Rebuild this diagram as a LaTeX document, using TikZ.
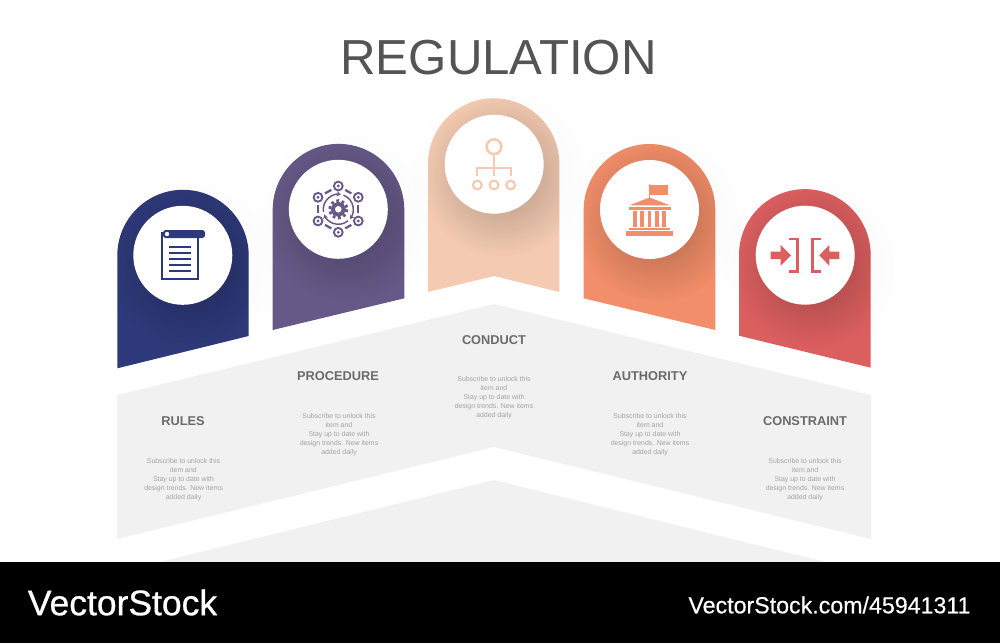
\documentclass[tikz,border=0pt]{standalone}
\usepackage{fontspec}
\setmainfont{Liberation Sans}
\usetikzlibrary{fadings,arrows.meta}
\definecolor{tabNavy}{HTML}{2E3979}
\definecolor{tabPurple}{HTML}{665988}
\definecolor{tabPeach}{HTML}{F4CBB2}
\definecolor{tabOrange}{HTML}{F28E69}
\definecolor{tabRed}{HTML}{DC5F60}
\definecolor{panelGray}{HTML}{F1F1F1}
\tikzfading[name=softShadow, inner color=transparent!0, outer color=transparent!100]
\tikzstyle{disc}=[shape = circle, minimum size = 74.25pt, inner sep = 0pt, fill = white]
\tikzstyle{heading}=[inner sep = 0pt, font = \fontsize{9.6}{11}\selectfont\bfseries, text = black!58]
\tikzstyle{blurb}=[inner sep = 0pt, align = center, font = \fontsize{5.2}{6.75}\selectfont, text = black!36]
\tikzstyle{ring}=[shape = circle, minimum size = 6.6pt, inner sep = 0pt, draw = tabPurple, line width = 1.4pt]
\tikzstyle{small}=[shape = circle, minimum size = 6.6pt, inner sep = 0pt, draw = tabPeach, line width = 1.6pt]
\newcommand{\DrawTab}[3]{
\fill[black, opacity = 0.04, path fading = softShadow] (#3) circle (95);
\fill[#2] #1;
\begin{scope}
\clip #1;
\fill[black, opacity = 0.27, path fading = softShadow] (#3) circle (82);
\end{scope}
}
\begin{document}
\begin{tikzpicture}[x = 0.75pt, y = -0.75pt]
\useasboundingbox (0,0) rectangle (1000,643);
\fill[white] (0,0) rectangle (1000,643);
\fill[panelGray] (157,562.7) -- (494,480) -- (828,562.7) -- cycle;
\fill[panelGray] (117,395) -- (494,304) -- (871,395) -- (871,539) -- (494,447) -- (117,539) -- cycle;
\fill[black] (0,562) rectangle (1000,643);
\node[inner sep = 0pt, font = \fontsize{36.9}{40}\selectfont, text = black!67] (title) at (498.5,58) {REGULATION};
\DrawTab{(117.3,368.3) -- (117.3,255.5) arc (180:360:65.7) -- (248.7,336) -- cycle}{tabNavy}{191,266}
\DrawTab{(272.7,330) -- (272.7,209.7) arc (180:360:65.8) -- (404.3,298.3) -- cycle}{tabPurple}{346,220}
\DrawTab{(428,292) -- (428,164) arc (180:360:65.7) -- (559.3,292) -- (494,276) -- cycle}{tabPeach}{502,175}
\DrawTab{(583.7,298.3) -- (583.7,209.8) arc (180:360:65.8) -- (715.3,330) -- cycle}{tabOrange}{657,220}
\DrawTab{(739,335.7) -- (739,255) arc (180:360:65.85) -- (870.7,367.7) -- cycle}{tabRed}{813,266}
\node[disc] (disc1) at (182.8,255.3) {};
\node[disc] (disc2) at (338.3,209.3) {};
\node[disc] (disc3) at (494.2,164.2) {};
\node[disc] (disc4) at (649.5,209.5) {};
\node[disc] (disc5) at (805.2,255.2) {};
\draw[tabNavy, line width = 1.9pt] (162,232) -- (162,279) -- (198,279) -- (198,237);
\fill[tabNavy, rounded corners = 2pt] (163,230) rectangle (205,238);
\fill[white] (167,234) circle (2.2);
\draw[tabNavy, line width = 1.7pt] (169,246.7) -- (191,246.7);
\draw[tabNavy, line width = 1.7pt] (169,252.7) -- (191,252.7);
\draw[tabNavy, line width = 1.7pt] (169,258.7) -- (191,258.7);
\draw[tabNavy, line width = 1.7pt] (169,264.7) -- (191,264.7);
\draw[tabNavy, line width = 1.7pt] (169,270.7) -- (191,270.7);
\node[ring] (n1) at (338.3,186) {};
\node[ring] (n2) at (358.3,197.3) {};
\node[ring] (n3) at (358.3,221) {};
\node[ring] (n4) at (338.3,232.3) {};
\node[ring] (n5) at (318,221) {};
\node[ring] (n6) at (318,197.3) {};
\fill[tabPurple] (n1) circle (1.6);
\fill[tabPurple] (n2) circle (1.6);
\fill[tabPurple] (n3) circle (1.6);
\fill[tabPurple] (n4) circle (1.6);
\fill[tabPurple] (n5) circle (1.6);
\fill[tabPurple] (n6) circle (1.6);
\draw[tabPurple, line width = 1.7pt, shorten > = 2pt, shorten < = 2pt] (n1) -- (n2);
\draw[tabPurple, line width = 1.7pt, shorten > = 2pt, shorten < = 2pt] (n2) -- (n3);
\draw[tabPurple, line width = 1.7pt, shorten > = 2pt, shorten < = 2pt] (n3) -- (n4);
\draw[tabPurple, line width = 1.7pt, shorten > = 2pt, shorten < = 2pt] (n4) -- (n5);
\draw[tabPurple, line width = 1.7pt, shorten > = 2pt, shorten < = 2pt] (n5) -- (n6);
\draw[tabPurple, line width = 1.7pt, shorten > = 2pt, shorten < = 2pt] (n6) -- (n1);
\draw[tabPurple, line width = 1.1pt, -{Stealth[length = 3.2pt, width = 3.8pt]}] (338.3,209.3) ++(-70:15) arc (-70:40:15);
\draw[tabPurple, line width = 1.1pt, -{Stealth[length = 3.2pt, width = 3.8pt]}] (338.3,209.3) ++(50:15) arc (50:160:15);
\draw[tabPurple, line width = 1.1pt, -{Stealth[length = 3.2pt, width = 3.8pt]}] (338.3,209.3) ++(170:15) arc (170:280:15);
\draw[tabPurple, line width = 2.2pt, dash pattern = on 2.05pt off 2.05pt] (338.3,209.3) circle (8.6);
\draw[tabPurple, line width = 2.9pt] (338.3,209.3) circle (5.5);
\draw[tabPeach, line width = 1.9pt] (494,146.7) circle (7.4);
\draw[tabPeach, line width = 1.6pt] (494,154.3) -- (494,176);
\draw[tabPeach, line width = 1.6pt] (477,176) -- (477,168.3) -- (511,168.3) -- (511,176);
\node[small] (leaf1) at (477.3,185) {};
\node[small] (leaf2) at (494,185) {};
\node[small] (leaf3) at (510.7,185) {};
\fill[tabOrange] (648.6,184) rectangle (650.4,200);
\fill[tabOrange] (650.4,184.8) rectangle (667.5,194.8);
\fill[tabOrange] (629.3,205.4) -- (649.5,197.5) -- (670,205.4) -- cycle;
\fill[tabOrange] (628.8,206.5) rectangle (670.5,209.8);
\fill[tabOrange] (633,211) rectangle (636.9,226.5);
\fill[tabOrange] (640.4,211) rectangle (644.3,226.5);
\fill[tabOrange] (647.5,211) rectangle (651.4,226.5);
\fill[tabOrange] (654.8,211) rectangle (658.7,226.5);
\fill[tabOrange] (662,211) rectangle (665.9,226.5);
\fill[tabOrange] (629.3,227.7) rectangle (670,230.4);
\fill[tabOrange] (626,231.3) rectangle (672.7,236);
\fill[tabRed] (770.7,251.7) -- (780.7,251.7) -- (780.7,245) -- (791,255.3) -- (780.7,265.7) -- (780.7,259) -- (770.7,259) -- cycle;
\fill[tabRed] (839.3,251.7) -- (829.3,251.7) -- (829.3,245) -- (819.3,255.3) -- (829.3,265.7) -- (829.3,259) -- (839.3,259) -- cycle;
\draw[tabRed, line width = 1.9pt] (789.3,239) -- (797.3,239) -- (797.3,271.5) -- (789.3,271.5);
\draw[tabRed, line width = 1.9pt] (820.7,239) -- (812.7,239) -- (812.7,271.5) -- (820.7,271.5);
\node[heading] (label1) at (183,421) {RULES};
\node[heading] (label2) at (338,376) {PROCEDURE};
\node[heading] (label3) at (494,340) {CONDUCT};
\node[heading] (label4) at (650,376) {AUTHORITY};
\node[heading] (label5) at (805,421) {CONSTRAINT};
\node[blurb] (blurb1) at (183.5,479.5) {Subscribe to unlock this\\item and\\Stay up to date with\\design trends. New items\\added daily};
\node[blurb] (blurb2) at (339,434.5) {Subscribe to unlock this\\item and\\Stay up to date with\\design trends. New items\\added daily};
\node[blurb] (blurb3) at (494,398) {Subscribe to unlock this\\item and\\Stay up to date with\\design trends. New items\\added daily};
\node[blurb] (blurb4) at (650,434.5) {Subscribe to unlock this\\item and\\Stay up to date with\\design trends. New items\\added daily};
\node[blurb] (blurb5) at (805,479.5) {Subscribe to unlock this\\item and\\Stay up to date with\\design trends. New items\\added daily};
\node[inner sep = 0pt, text = white, font = \fontsize{26.6}{30}\selectfont\addfontfeatures{FakeBold=0.8}] (brand) at (122.5,602.5) {VectorStock};
\node[inner sep = 0pt, text = white, font = \fontsize{17.4}{20}\selectfont\addfontfeatures{FakeBold=0.5}] (brandurl) at (829.5,605) {VectorStock.com/45941311};
\end{tikzpicture}
\end{document}
